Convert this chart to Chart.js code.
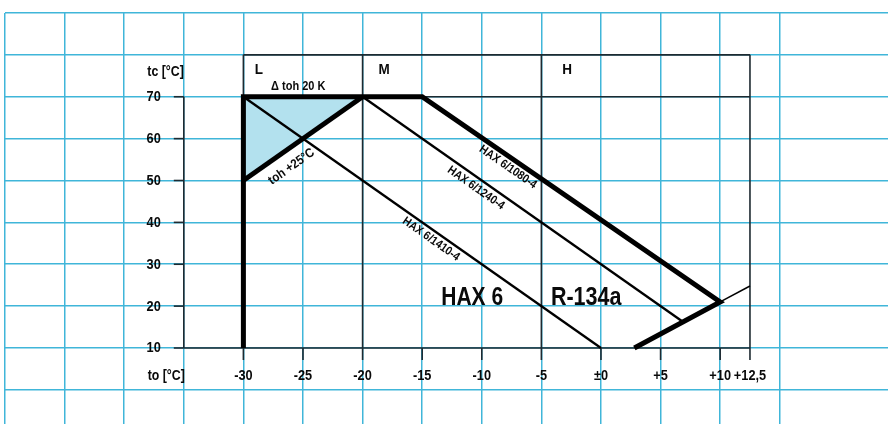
<!DOCTYPE html>
<html><head><meta charset="utf-8">
<script src="https://cdn.jsdelivr.net/npm/chart.js@4"></script>
<style>html,body{margin:0;padding:0;background:#fff;overflow:hidden}#wrap{width:888px;height:424px}</style>
</head><body><div id="wrap"><canvas id="c" width="888" height="424"></canvas></div>
<script>
// ---- data ----
const xTicks = [-30, -25, -20, -15, -10, -5, 0, 5, 10, 12.5];
const xTickLabels = ['-30', '-25', '-20', '-15', '-10', '-5', '±0', '+5', '+10', '+12,5'];
const yTicks = [10, 20, 30, 40, 50, 60, 70];
const yTickLabels = ['10', '20', '30', '40', '50', '60', '70'];
const zoneEdges = [-30, -20, -5, 12.5];
const zoneLabels = ['L', 'M', 'H'];
const xTitle = 'to [°C]';
const yTitle = 'tc [°C]';

const envelopeTo = [-30, -30, -15, 10, 2.8];
const envelopeTc = [10, 70, 70, 21, 10];
const toh25To = [-30, -20];
const toh25Tc = [50, 70];
const hax1410To = [-30, 0];
const hax1410Tc = [70, 10];
const hax1240To = [-20, 6.9];
const hax1240Tc = [70, 16.2];
const extTo = [10, 12.5];
const extTc = [21, 24.8];
const shadeTo = [-30, -20, -30, -30];
const shadeTc = [70, 70, 50, 70];

const pts = (xs, ys) => xs.map((x, i) => ({x: x, y: ys[i]}));

// ---- layout / style ----
const CYAN = '#40b6d9';
const DARK = '#1d2a31';
const FONT = '"Liberation Sans", Arial, sans-serif';
const annot = {
  zoneLabelX: [-28.7, -18.2, -2.85],
  zoneLabelY: 76.4,
  dtoh: {text: 'Δ toh 20 K', x: -25.4, y: 72.4},
  toh: {text: 'toh +25°C', x: -25.96, y: 53.3},
  l1080: {text: 'HAX 6/1080-4', x: -7.8, y: 53.2},
  l1240: {text: 'HAX 6/1240-4', x: -10.49, y: 48.2},
  l1410: {text: 'HAX 6/1410-4', x: -14.26, y: 36.0},
  hax: {text: 'HAX 6', x: -13.4, y: 20.27},
  ref: {text: 'R-134a', x: -4.2, y: 20.27}
};

function txt(ctx, s, x, y, size, o) {
  o = o || {};
  ctx.save();
  ctx.translate(x, y);
  if (o.rot) ctx.rotate(o.rot);
  ctx.scale(o.sx || 0.88, 1);
  ctx.font = 'bold ' + size + 'px ' + FONT;
  ctx.textAlign = o.align || 'center';
  ctx.textBaseline = o.base || 'middle';
  ctx.fillStyle = o.color || '#0a0a0a';
  ctx.fillText(s, 0, 0);
  ctx.restore();
}

const framePlugin = {
  id: 'frame',
  beforeDatasetsDraw(chart) {
    const ctx = chart.ctx, X = chart.scales.x, Y = chart.scales.y;
    const px = v => X.getPixelForValue(v), py = v => Y.getPixelForValue(v);
    ctx.save();
    ctx.strokeStyle = DARK;
    ctx.lineWidth = 1.6;
    ctx.lineCap = 'butt';
    const seg = (x1, y1, x2, y2) => { ctx.beginPath(); ctx.moveTo(x1, y1); ctx.lineTo(x2, y2); ctx.stroke(); };
    const axisX = px(-35);
    seg(axisX, py(10), axisX, py(70));
    yTicks.forEach(v => seg(axisX - 10, py(v), axisX, py(v)));
    seg(axisX, py(10), px(12.5), py(10));
    xTicks.forEach(v => seg(px(v), py(10), px(v), py(10) + 12));
    seg(px(-30), py(80), px(12.5), py(80));
    seg(px(-30), py(70), px(12.5), py(70));
    zoneEdges.forEach(v => seg(px(v), py(80), px(v), py(10)));
    ctx.restore();
  },
  afterDatasetsDraw(chart) {
    const ctx = chart.ctx, X = chart.scales.x, Y = chart.scales.y;
    const px = v => X.getPixelForValue(v), py = v => Y.getPixelForValue(v);
    const axisX = px(-35);
    yTicks.forEach((v, i) => txt(ctx, yTickLabels[i], axisX - 23, py(v) + 0.5, 14.5, {align: 'right', sx: 0.88}));
    xTicks.forEach((v, i) => txt(ctx, xTickLabels[i], px(v), py(10) + 28, 14.5, {sx: 0.88}));
    txt(ctx, xTitle, axisX + 1, py(10) + 28, 14.5, {align: 'right', sx: 0.85});
    txt(ctx, yTitle, axisX, py(70) - 25, 14.5, {align: 'right', sx: 0.85});
    zoneLabels.forEach((s, i) => txt(ctx, s, px(annot.zoneLabelX[i]), py(annot.zoneLabelY), 15, {sx: 0.9}));
    txt(ctx, annot.dtoh.text, px(annot.dtoh.x), py(annot.dtoh.y), 12.5, {sx: 0.88});
    const ang = (xs, ys) => Math.atan2(py(ys[1]) - py(ys[0]), px(xs[1]) - px(xs[0]));
    txt(ctx, annot.toh.text, px(annot.toh.x), py(annot.toh.y), 13, {rot: ang(toh25To, toh25Tc), sx: 0.88});
    txt(ctx, annot.l1080.text, px(annot.l1080.x), py(annot.l1080.y), 12, {rot: ang(envelopeTo.slice(2, 4), envelopeTc.slice(2, 4)), sx: 0.88});
    txt(ctx, annot.l1240.text, px(annot.l1240.x), py(annot.l1240.y), 12, {rot: ang(hax1240To, hax1240Tc), sx: 0.88});
    txt(ctx, annot.l1410.text, px(annot.l1410.x), py(annot.l1410.y), 12, {rot: ang(hax1410To, hax1410Tc), sx: 0.88});
    txt(ctx, annot.hax.text, px(annot.hax.x), py(annot.hax.y), 25, {align: 'left', base: 'alphabetic', sx: 0.84});
    txt(ctx, annot.ref.text, px(annot.ref.x), py(annot.ref.y), 25, {align: 'left', base: 'alphabetic', sx: 0.86});
  }
};

const keep = step => scale => {
  scale.ticks = scale.ticks.filter(t => Math.abs(t.value / step - Math.round(t.value / step)) < 1e-6);
};

const lineDs = (data, w, extra) => Object.assign({
  data: data, showLine: true, borderColor: '#000', borderWidth: w,
  pointRadius: 0, pointHoverRadius: 0, fill: false, tension: 0,
  borderJoinStyle: 'miter', borderCapStyle: 'butt'
}, extra || {});

new Chart(document.getElementById('c'), {
  type: 'scatter',
  data: {
    datasets: [
      lineDs(pts(envelopeTo, envelopeTc), 5),
      lineDs(pts(toh25To, toh25Tc), 5),
      lineDs(pts(hax1410To, hax1410Tc), 2.3),
      lineDs(pts(hax1240To, hax1240Tc), 2.3),
      lineDs(pts(extTo, extTc), 1.5),
      lineDs(pts(shadeTo, shadeTc), 0, {fill: 'shape', backgroundColor: '#b3e1ee', borderColor: 'rgba(0,0,0,0)'})
    ]
  },
  options: {
    responsive: false,
    devicePixelRatio: 1,
    animation: false,
    events: [],
    layout: {padding: {left: 5, top: 13, right: 0, bottom: 0}},
    plugins: {legend: {display: false}, tooltip: {enabled: false}},
    scales: {
      x: {
        type: 'linear', min: -50, max: 24.08,
        ticks: {display: false, stepSize: 5},
        grid: {color: CYAN, lineWidth: 1.5, drawTicks: false},
        border: {display: false},
        afterBuildTicks: keep(5)
      },
      y: {
        type: 'linear', min: -8.15, max: 90,
        ticks: {display: false, stepSize: 10},
        grid: {color: CYAN, lineWidth: 1.5, drawTicks: false},
        border: {display: false},
        afterBuildTicks: keep(10)
      }
    }
  },
  plugins: [framePlugin]
});
</script>
</body></html>
